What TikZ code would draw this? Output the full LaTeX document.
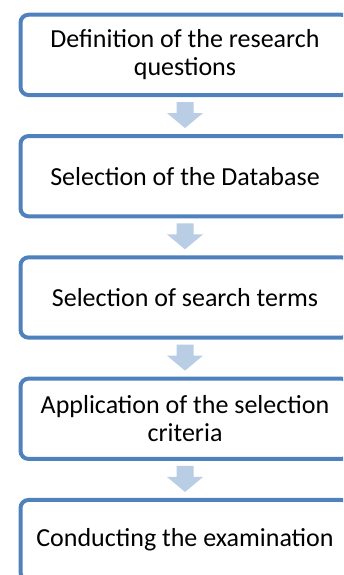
\documentclass[tikz,border=0pt]{standalone}
\usepackage{fontspec}
\setmainfont{Carlito}
\usetikzlibrary{calc}
\definecolor{stepblue}{HTML}{4F81BD}
\definecolor{flowblue}{HTML}{B9CDE5}
\tikzset{
  stepbox/.style={draw=stepblue, line width=4pt, rounded corners=8pt, fill=white,
    minimum width=329pt, minimum height=80.3pt, align=center, inner sep=2pt,
    font=\fontsize{26}{28}\selectfont, text=black},
  flowarrow/.style={fill=flowblue, draw=none}
}
% block arrow from the bottom of box #1 to the top of box #2
\newcommand{\flowarrow}[2]{%
  \fill[flowarrow]
    ($(#1.south)+(-8.5,5)$) -- ($(#1.south)+(8.5,5)$) --
    ($(#2.north)+(8.5,-21)$) -- ($(#2.north)+(18,-21)$) --
    ($(#2.north)+(0,-6)$) --
    ($(#2.north)+(-18,-21)$) -- ($(#2.north)+(-8.5,-21)$) -- cycle;}
\begin{document}
\begin{tikzpicture}[x=1pt,y=-1pt]
  \useasboundingbox (0,0) rectangle (343,575);
  \clip (0,0) rectangle (343,575);
  \node[stepbox] (s1) at (185,54.9) {Definition of the research\\questions};
  \node[stepbox] (s2) at (185,176.2) {Selection of the Database};
  \node[stepbox] (s3) at (185,297.5) {Selection of search terms};
  \node[stepbox] (s4) at (185,418.8) {Application of the selection\\criteria};
  \node[stepbox] (s5) at (185,540.1) {Conducting the examination};
  \flowarrow{s1}{s2}
  \flowarrow{s2}{s3}
  \flowarrow{s3}{s4}
  \flowarrow{s4}{s5}
\end{tikzpicture}
\end{document}
